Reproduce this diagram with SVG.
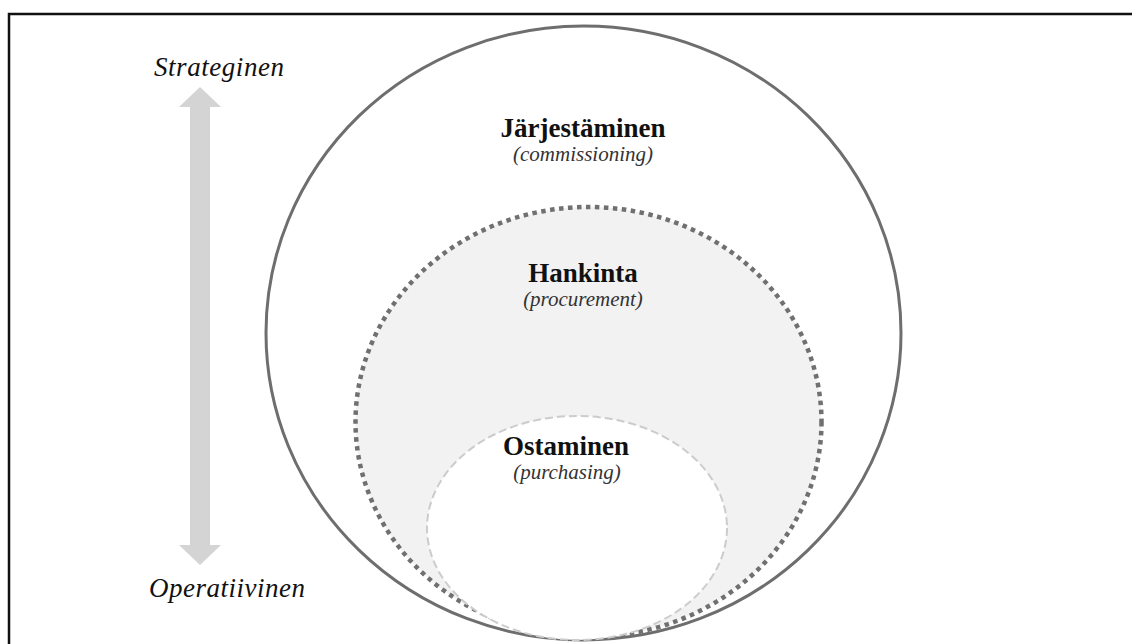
<svg xmlns="http://www.w3.org/2000/svg" width="1132" height="644" viewBox="0 0 1132 644">
  <style>
    .label { font-family: "Liberation Serif", "Times New Roman", serif; fill: #111; }
    .title { font-weight: bold; font-size: 27px; text-anchor: middle; }
    .sub { font-style: italic; font-size: 21px; text-anchor: middle; fill: #333; }
    .axis { font-style: italic; font-size: 27px; }
  </style>
  <rect x="0" y="0" width="1132" height="644" fill="#ffffff"/>
  <!-- frame -->
  <rect x="9" y="14" width="1130" height="640" fill="none" stroke="#111" stroke-width="2.5"/>

  <!-- vertical scale arrow -->
  <g id="scale">
    <polygon points="200,87 221,107 210,107 210,545 221,545 200,565 179,545 190,545 190,107 179,107" fill="#d4d4d4"/>
    <text class="label axis" x="154" y="76" textLength="130">Strateginen</text>
    <text class="label axis" x="149" y="597" textLength="156">Operatiivinen</text>
  </g>

  <g id="commissioning">
    <ellipse cx="583.5" cy="333" rx="317.5" ry="307" fill="none" stroke="#6e6e6e" stroke-width="3"/>
    <text class="label title" x="583" y="137">Järjestäminen</text>
    <text class="label sub" x="583" y="161">(commissioning)</text>
  </g>

  <g id="procurement">
    <ellipse cx="588.5" cy="422" rx="233" ry="215" fill="#f2f2f2" stroke="#707070" stroke-width="4.5" stroke-dasharray="4.5 4.5"/>
    <text class="label title" x="583" y="282">Hankinta</text>
    <text class="label sub" x="583" y="306">(procurement)</text>
  </g>

  <g id="purchasing">
    <ellipse cx="577" cy="528" rx="150" ry="112" fill="#ffffff" stroke="#cccccc" stroke-width="2" stroke-dasharray="8 4"/>
    <text class="label title" x="566" y="455">Ostaminen</text>
    <text class="label sub" x="567" y="479">(purchasing)</text>
  </g>
</svg>
